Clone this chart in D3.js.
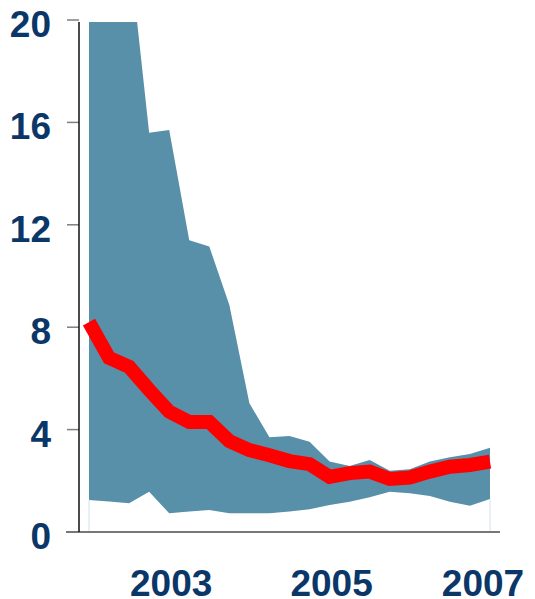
<!DOCTYPE html>
<html>
<head>
<meta charset="utf-8">
<script src="https://cdnjs.cloudflare.com/ajax/libs/d3/7.8.5/d3.min.js"></script>
<style>
    body { margin: 0; background: #fff; }
    .tickLabel { font-family: "Liberation Sans", Arial, sans-serif; font-weight: bold; font-size: 37px; fill: #0b3768; }
</style>
</head>
<body>
<script>
//quarterly points, 2002 Q1 to 2007 Q1
var quarters = d3.range(0, 21);
var upperBand = [24, 24, 22.8, 15.6, 15.7, 11.4, 11.15, 8.87, 5.03, 3.7, 3.75, 3.53, 2.75, 2.58, 2.81, 2.39, 2.45, 2.75, 2.92, 3.05, 3.29];
var lowerBand = [1.25, 1.19, 1.12, 1.57, 0.73, 0.8, 0.86, 0.73, 0.73, 0.73, 0.8, 0.89, 1.05, 1.18, 1.36, 1.57, 1.51, 1.41, 1.18, 1.03, 1.29];
var middleLine = [8.2, 6.8, 6.45, 5.55, 4.7, 4.3, 4.3, 3.55, 3.2, 3.0, 2.77, 2.65, 2.15, 2.3, 2.36, 2.07, 2.13, 2.36, 2.55, 2.62, 2.75];
var yTicks = [0, 4, 8, 12, 16, 20];
var yearLabels = ["2003", "2005", "2007"];
var yearIndex = [4, 12, 20];

var width = 535, height = 599;

var svg = d3.select("body").append("svg")
    .attr("width", width)
    .attr("height", height);

var x = d3.scaleLinear().domain([0, 20]).range([89, 490]);
var y = d3.scaleLinear().domain([0, 20]).range([532, 20]);

var plotTop = 22;

//clip the band at the top of the plot
svg.append("clipPath").attr("id", "plotClip")
    .append("rect")
    .attr("x", x(0))
    .attr("y", plotTop)
    .attr("width", x(20) - x(0))
    .attr("height", y(0) - plotTop);

var rows = quarters.map(function(q, i){
    return {q: q, lo: lowerBand[i], hi: upperBand[i], mid: middleLine[i]};
});

//band
var area = d3.area()
    .x(function(d){ return x(d.q); })
    .y0(function(d){ return y(d.lo); })
    .y1(function(d){ return y(d.hi); });

svg.append("path")
    .datum(rows)
    .attr("clip-path", "url(#plotClip)")
    .attr("fill", "#5790a8")
    .attr("d", area);

//thin edges under the band at both ends
svg.selectAll(".edge")
    .data([rows[0], rows[rows.length - 1]])
    .enter()
    .append("line")
    .attr("class", "edge")
    .attr("x1", function(d){ return x(d.q); })
    .attr("x2", function(d){ return x(d.q); })
    .attr("y1", function(d){ return y(d.lo); })
    .attr("y2", y(0))
    .attr("stroke", "#d3e2ea")
    .attr("stroke-width", 1);

//y axis ticks and labels
svg.selectAll(".tick")
    .data(yTicks)
    .enter()
    .append("line")
    .attr("class", "tick")
    .attr("x1", 67)
    .attr("x2", 79)
    .attr("y1", function(d){ return y(d); })
    .attr("y2", function(d){ return y(d); })
    .attr("stroke", "#7f7f7f")
    .attr("stroke-width", 1.5);

svg.selectAll(".yLabel")
    .data(yTicks)
    .enter()
    .append("text")
    .attr("class", "tickLabel")
    .attr("text-anchor", "end")
    .attr("x", 51)
    .attr("y", function(d){ return y(d) + 17; })
    .text(function(d){ return d; });

//axis lines
svg.append("line")
    .attr("x1", 66).attr("x2", 500)
    .attr("y1", y(0)).attr("y2", y(0))
    .attr("stroke", "#777")
    .attr("stroke-width", 2);

svg.append("line")
    .attr("x1", 79).attr("x2", 79)
    .attr("y1", plotTop).attr("y2", y(0))
    .attr("stroke", "#111")
    .attr("stroke-width", 1.5);

//x labels
svg.selectAll(".xLabel")
    .data(yearLabels)
    .enter()
    .append("text")
    .attr("class", "tickLabel")
    .attr("text-anchor", "middle")
    .attr("x", function(d, i){ return x(yearIndex[i]) + (i == 2 ? -7 : 2); })
    .attr("y", 596)
    .text(function(d){ return d; });

//red line
var line = d3.line()
    .x(function(d){ return x(d.q); })
    .y(function(d){ return y(d.mid); });

svg.append("path")
    .datum(rows)
    .attr("fill", "none")
    .attr("stroke", "#ff0000")
    .attr("stroke-width", 14)
    .attr("stroke-linejoin", "miter")
    .attr("d", line);
</script>
</body>
</html>
